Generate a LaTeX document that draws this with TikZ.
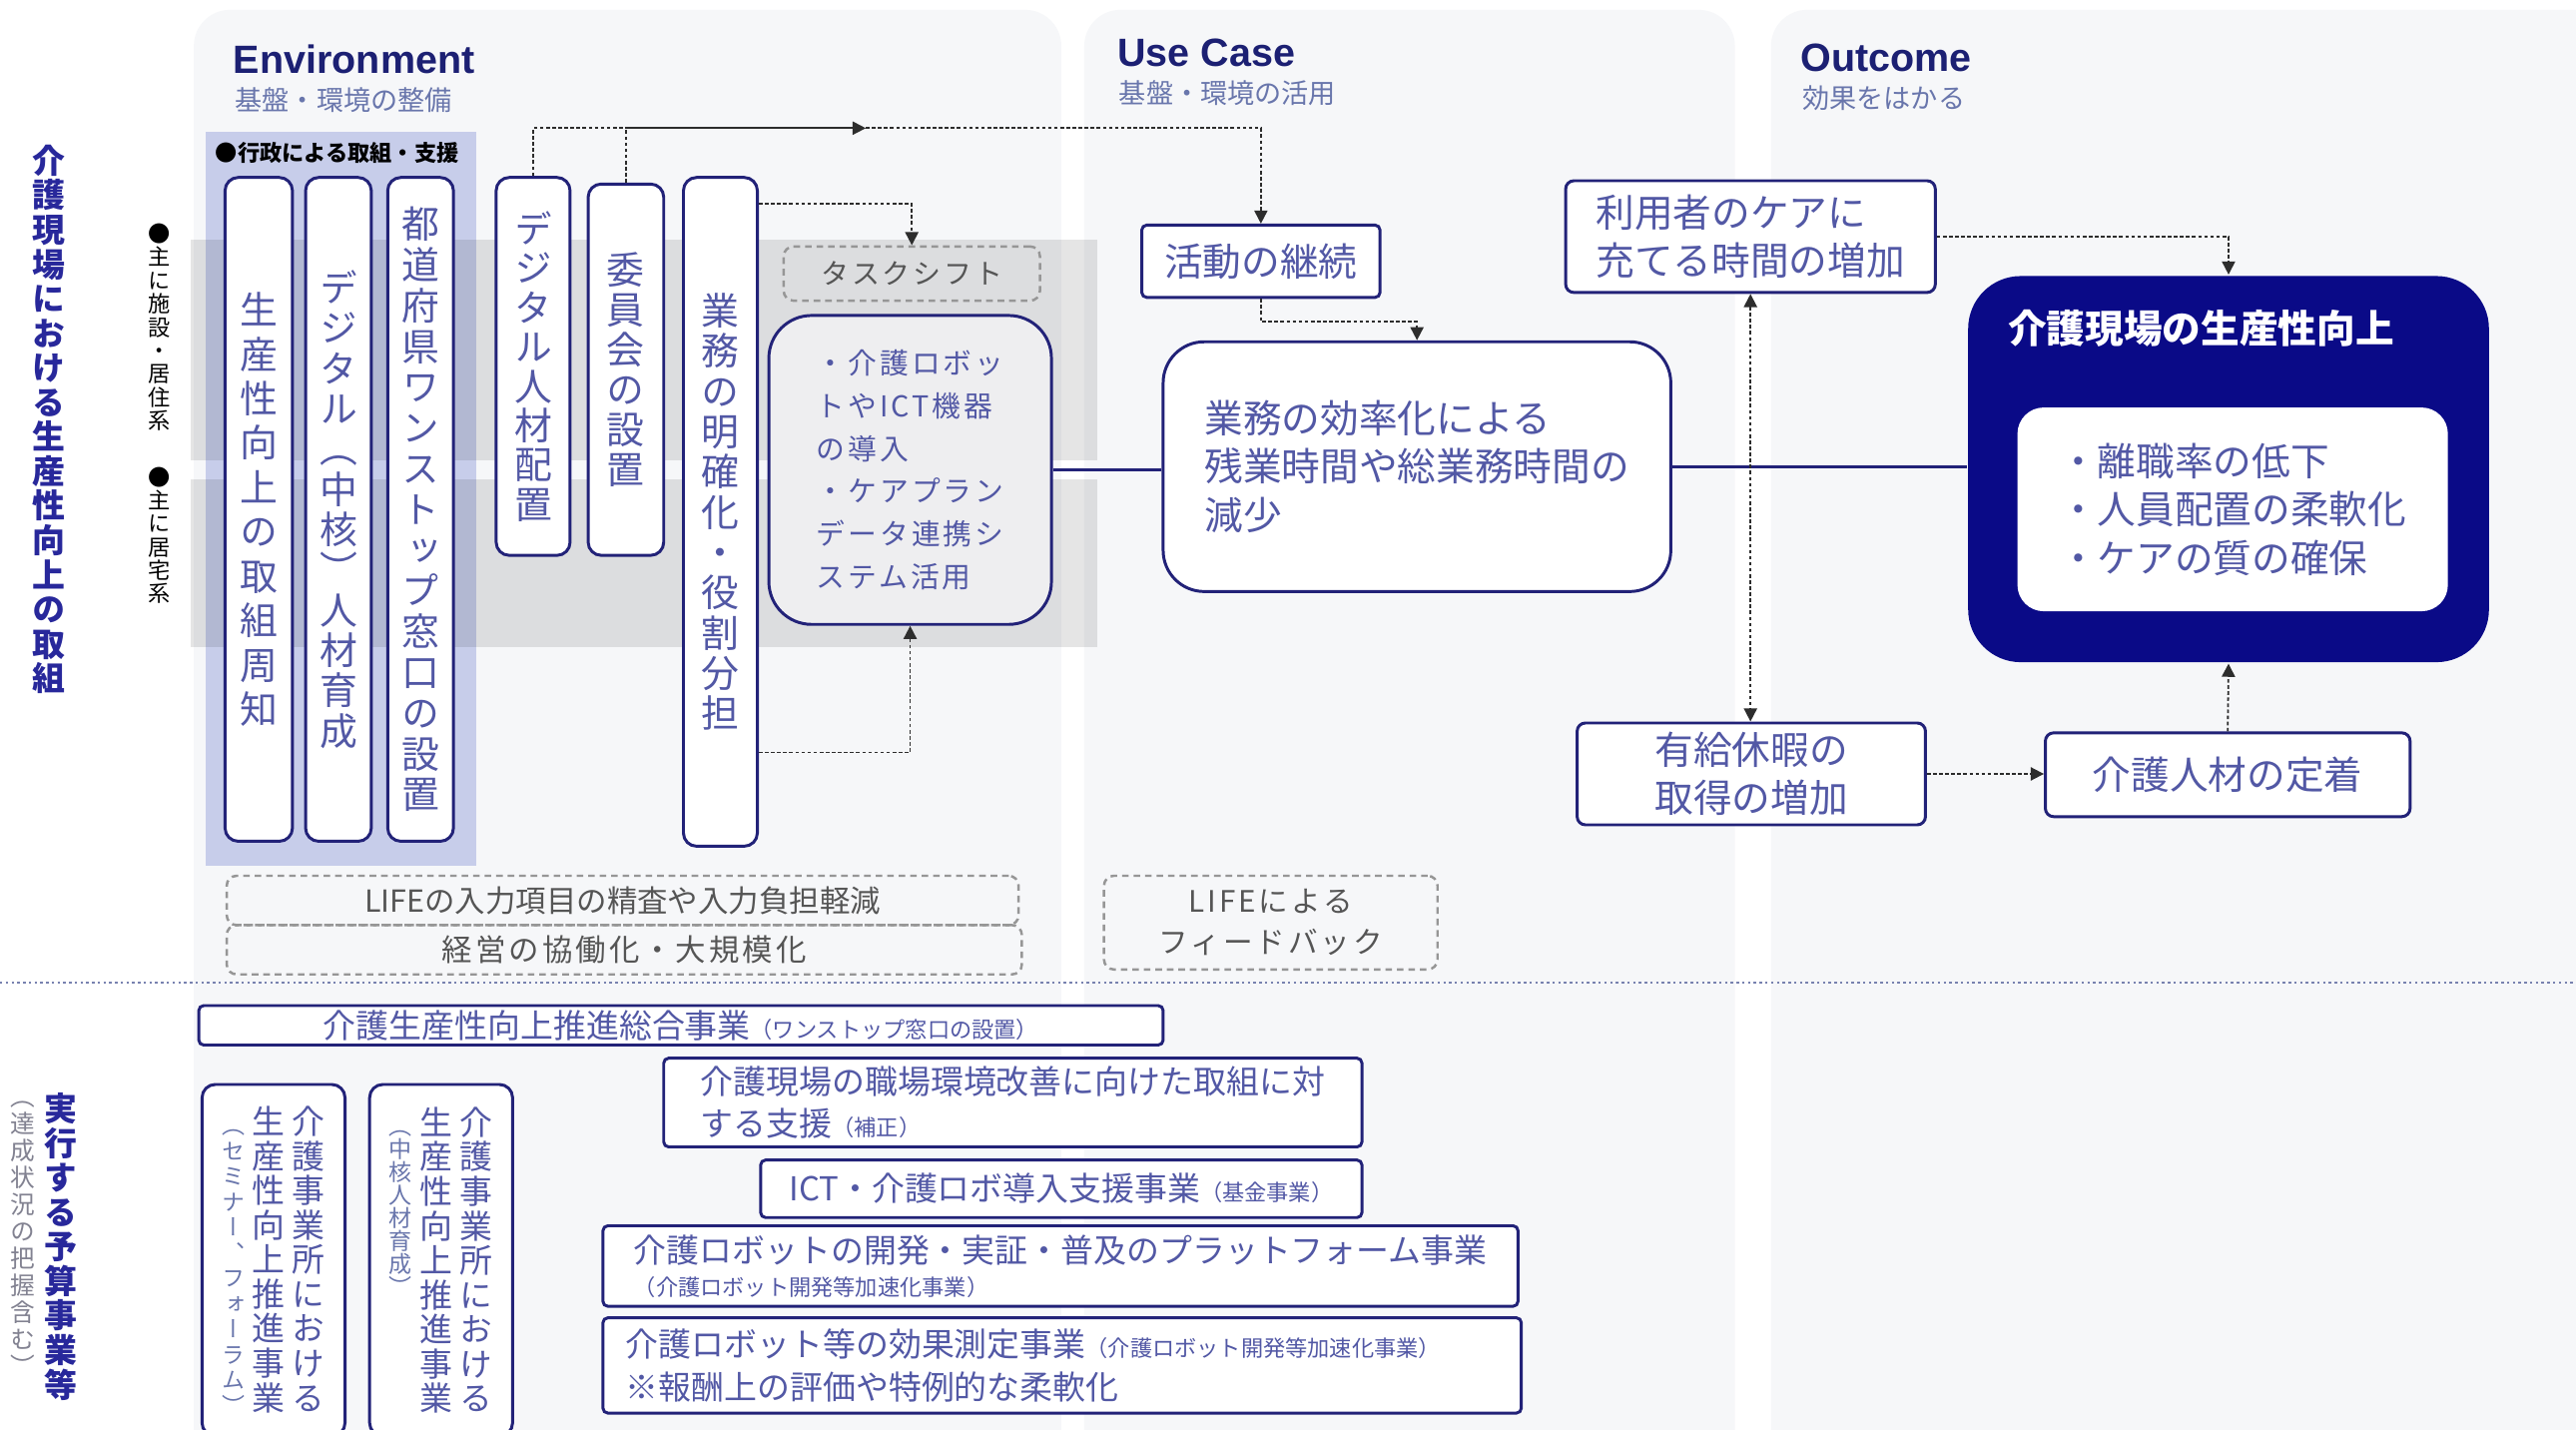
\documentclass[tikz,border=0pt]{standalone}
\usepackage{fontspec}
\setmainfont{Noto Sans CJK JP}
\newfontfamily\tatefont{Noto Sans CJK JP}[RawFeature=+vert]
\newfontfamily\widefont{Noto Sans CJK JP}[LetterSpace=10]
\newfontfamily\headfont{Liberation Sans}
\usetikzlibrary{arrows.meta}
\usetikzlibrary{positioning}

\definecolor{navy}{RGB}{34,34,120}
\definecolor{navyfill}{RGB}{10,10,135}
\definecolor{boxtext}{RGB}{82,88,165}
\definecolor{titlenavy}{RGB}{28,32,115}
\definecolor{subblue}{RGB}{105,118,172}
\definecolor{leftblue}{RGB}{40,40,155}
\definecolor{panel}{RGB}{246,247,249}
\definecolor{lavender}{RGB}{199,205,234}
\definecolor{dashgray}{RGB}{150,150,150}
\definecolor{graytext}{RGB}{85,85,85}
\definecolor{linegray}{RGB}{45,45,45}
\definecolor{ictfill}{RGB}{238,238,240}
\definecolor{sepblue}{RGB}{120,130,175}
\definecolor{notegray}{RGB}{130,130,145}

%senkrechter Text
\makeatletter
\newcommand\tate[2]{\vtop{\tatefont\baselineskip=#1\lineskiplimit=-\maxdimen
  \@tfor\tatech:=#2\do{\hbox to 1em{\hss\tatech\hss}}}}
\makeatother

\tikzset{
box/.style={draw=navy, line width=1.8pt, fill=white, text=boxtext, rounded corners=5pt, inner sep=0pt},
tatebox/.style={box, rounded corners=8pt, font=\fontsize{23}{25}\selectfont},
yokobox/.style={box, align=left, font=\fontsize{23.5}{29.5}\selectfont},
budget/.style={box, rounded corners=3pt, align=left, font=\fontsize{20}{26}\selectfont},
dashbox/.style={draw=dashgray, line width=1.5pt, dash pattern=on 4pt off 3pt, rounded corners=6pt, text=graytext, inner sep=0pt},
dotline/.style={draw=linegray, line width=1.1pt, dash pattern=on 2.2pt off 1.5pt},
pfeil/.style={-{Triangle[length=8pt,width=8pt]}},
pfeile/.style={{Triangle[length=8pt,width=8pt]}-{Triangle[length=8pt,width=8pt]}},
heading/.style={anchor=west, inner sep=0pt, text=titlenavy, font=\headfont\fontsize{24}{24}\selectfont\bfseries},
subheading/.style={inner sep=0pt, text=subblue, font=\fontsize{16.5}{17}\selectfont},
}

\begin{document}
\begin{tikzpicture}[%
x={(1pt,0pt)},
y={(0pt,-1pt)},
]

\useasboundingbox (0,0) rectangle (1568,870);
\clip (0,0) rectangle (1568,870);
\fill[white] (0,0) rectangle (1568,870);

%Hintergrund
\fill[panel, rounded corners=22pt] (118,6) rectangle (646,920);
\fill[panel, rounded corners=22pt] (660,6) rectangle (1056,920);
\fill[panel, rounded corners=22pt] (1078,6) rectangle (1620,920);
\fill[lavender] (125,80) rectangle (290,527);
\fill[black, opacity=0.1] (116,146) rectangle (668,280);
\fill[black, opacity=0.1] (116,292) rectangle (668,394);

%Titel
\node[heading] (EnvT) at (142,36) {Environment};
\node[subheading, below right=8pt and 1pt of EnvT.south west] (EnvS) {基盤・環境の整備};
\node[heading] (UseT) at (680,32) {Use Case};
\node[subheading, below right=8pt and 1pt of UseT.south west] (UseS) {基盤・環境の活用};
\node[heading] (OutT) at (1096,35) {Outcome};
\node[subheading, below right=8pt and 1pt of OutT.south west] (OutS) {効果をはかる};

%linke Beschriftung
\node[anchor=north, inner sep=0pt, text=leftblue, font=\fontsize{20}{20}\selectfont\bfseries] (Torikumi) at (30,88) {\tate{21pt}{介護現場における生産性向上の取組}};
\node[anchor=north, inner sep=0pt, font=\fontsize{13.5}{14}\selectfont] (Shisetsu) at (97,136) {\tate{14.2pt}{●主に施設・居住系}};
\node[anchor=north, inner sep=0pt, font=\fontsize{13.5}{14}\selectfont] (Kyotaku) at (97,284) {\tate{14.2pt}{●主に居宅系}};
\node[anchor=west, inner sep=0pt, font=\fontsize{13.5}{14}\selectfont\bfseries] (Gyosei) at (131,93) {●行政による取組・支援};

%Environment
\node[tatebox, minimum width=41pt, minimum height=404pt] (Shuchi) at (157.5,310) {\tate{27pt}{生産性向上の取組周知}};
\node[tatebox, minimum width=40pt, minimum height=404pt] (Ikusei) at (206,310) {\tate{24.5pt}{デジタル（中核）人材育成}};
\node[tatebox, minimum width=40pt, minimum height=404pt] (Madoguchi) at (256,310) {\tate{24.8pt}{都道府県ワンストップ窓口の設置}};
\node[tatebox, minimum width=45pt, minimum height=230pt] (Digital) at (324.5,223) {\tate{24pt}{デジタル人材配置}};
\node[tatebox, minimum width=46pt, minimum height=226pt] (Iinkai) at (381,225) {\tate{24.3pt}{委員会の設置}};
\node[tatebox, minimum width=45pt, minimum height=407pt] (Buntan) at (438.5,311.5) {\tate{24.5pt}{業務の明確化・役割分担}};

\node[dashbox, minimum width=156pt, minimum height=33pt, font=\widefont\fontsize{17}{17}\selectfont] (Task) at (555,166.5) {タスクシフト};
\node[box, rounded corners=26pt, fill=ictfill, minimum width=172pt, minimum height=188pt, align=left, font=\widefont\fontsize{17.5}{26}\selectfont] (ICT) at (554,286) {・介護ロボッ\\トやICT機器\\の導入\\・ケアプラン\\データ連携シ\\ステム活用};

\node[dashbox, minimum width=482pt, minimum height=30pt, font=\fontsize{18.5}{19}\selectfont] (Life) at (379,548) {LIFEの入力項目の精査や入力負担軽減};
\node[dashbox, minimum width=484pt, minimum height=30pt, font=\widefont\fontsize{18.5}{19}\selectfont] (Keiei) at (380,578) {経営の協働化・大規模化};

%Use Case
\node[yokobox, rounded corners=3pt, minimum width=145pt, minimum height=44pt] (Keizoku) at (767.5,159) {活動の継続};
\node[yokobox, rounded corners=25pt, minimum width=309pt, minimum height=152pt] (Koritsu) at (862.5,284) {業務の効率化による\\残業時間や総業務時間の\\減少};
\node[dashbox, minimum width=203pt, minimum height=57pt, align=center, font=\widefont\fontsize{18}{25}\selectfont] (Feedback) at (773.5,561.5) {LIFEによる\\フィードバック};

%Outcome
\node[yokobox, minimum width=225pt, minimum height=68pt] (Riyou) at (1065.5,144) {利用者のケアに\\充てる時間の増加};
\node[yokobox, align=center, minimum width=212pt, minimum height=62pt] (Yukyu) at (1066,471) {有給休暇の\\取得の増加};
\node[yokobox, minimum width=222pt, minimum height=51pt] (Teichaku) at (1356,471.5) {介護人材の定着};
\node[box, draw=none, fill=navyfill, rounded corners=32pt, minimum width=317pt, minimum height=235pt] (Seisan) at (1356.5,285.5) {};
\node[anchor=west, inner sep=0pt, text=white, font=\fontsize{23.5}{24}\selectfont\bfseries] (SeisanT) at (1222,200) {介護現場の生産性向上};
\node[yokobox, draw=none, rounded corners=16pt, minimum width=262pt, minimum height=124pt] (SeisanL) at (1359,310) {・離職率の低下\\・人員配置の柔軟化\\・ケアの質の確保};

%Pfeile
\coordinate (Oben) at (0,78);
\coordinate (Spitze) at (527,78);
\draw[dotline] (Digital.north) |- (Iinkai.north |- Oben);
\draw[dotline] (Iinkai.north) -- (Iinkai.north |- Oben);
\draw[draw=linegray, line width=1.1pt, pfeil] (Iinkai.north |- Oben) -- (Spitze);
\draw[dotline, pfeil] (Spitze) -| (Keizoku.north);
\draw[dotline, pfeil] ([yshift=-17pt]Buntan.north east) -| (Task.north);
\draw[dotline, pfeil] ([yshift=58pt]Buntan.south east) -| (ICT.south);
\draw[navy, line width=1.6pt] (ICT.east) -- (ICT.east -| Koritsu.west);
\draw[dotline, pfeil] (Keizoku.south) -- ++(0,14) -| (Koritsu.north);
\draw[navy, line width=1.6pt] (Koritsu.east) -- (Koritsu.east -| Seisan.west);
\draw[dotline, pfeile] (Riyou.south) -- (Riyou.south |- Yukyu.north);
\draw[dotline, pfeil] (Riyou.east) -| (Seisan.north);
\draw[dotline, pfeil] (Yukyu.east) -- (Yukyu.east -| Teichaku.west);
\draw[dotline, pfeil] (Teichaku.north) -- (Seisan.south);

%Trennlinie
\draw[sepblue, line width=1.5pt, dotted] (0,598) -- (1568,598);

%Budget
\node[anchor=north, inner sep=0pt, text=leftblue, font=\fontsize{20}{20}\selectfont\bfseries] (Yosan) at (37,665) {\tate{21pt}{実行する予算事業等}};
\node[anchor=north, inner sep=0pt, text=notegray, font=\fontsize{15}{15}\selectfont] (Tassei) at (14,670) {\tate{16.4pt}{（達成状況の把握含む）}};

\node[budget, minimum width=587pt, minimum height=24pt] (Sogo) at (414.5,624) {介護生産性向上推進総合事業{\fontsize{13.5}{14}\selectfont（ワンストップ窓口の設置）}};
\node[budget, minimum width=425pt, minimum height=54pt] (Shokuba) at (616.5,671) {介護現場の職場環境改善に向けた取組に対\\する支援{\fontsize{13.5}{14}\selectfont（補正）}};
\node[budget, minimum width=366pt, minimum height=35pt] (Donyu) at (646,723.5) {ICT・介護ロボ導入支援事業{\fontsize{13.5}{14}\selectfont（基金事業）}};
\node[budget, minimum width=557pt, minimum height=49pt] (Platform) at (645.5,770.5) {介護ロボットの開発・実証・普及のプラットフォーム事業\\[-6pt]{\fontsize{13.5}{14}\selectfont（介護ロボット開発等加速化事業）}};
\node[budget, text width=531pt, inner xsep=14pt, minimum height=58pt] (Koka) at (646.5,831) {介護ロボット等の効果測定事業{\fontsize{13.5}{14}\selectfont（介護ロボット開発等加速化事業）}\\※報酬上の評価や特例的な柔軟化};

\node[box, rounded corners=8pt, minimum width=87pt, minimum height=214pt, font=\fontsize{20}{20}\selectfont] (Seminar) at (166.5,767) {{\color{subblue}\fontsize{14}{14}\selectfont\tate{15.5pt}{（セミナー、フォーラム）}}\hspace{4.5pt}\tate{21pt}{生産性向上推進事業}\hspace{4.5pt}\tate{21pt}{介護事業所における}};
\node[box, rounded corners=8pt, minimum width=87pt, minimum height=214pt, font=\fontsize{20}{20}\selectfont] (Chukaku) at (268.5,767) {{\color{subblue}\fontsize{14}{14}\selectfont\tate{14pt}{（中核人材育成）}}\hspace{4.5pt}\tate{21pt}{生産性向上推進事業}\hspace{4.5pt}\tate{21pt}{介護事業所における}};

\end{tikzpicture}
\end{document}
